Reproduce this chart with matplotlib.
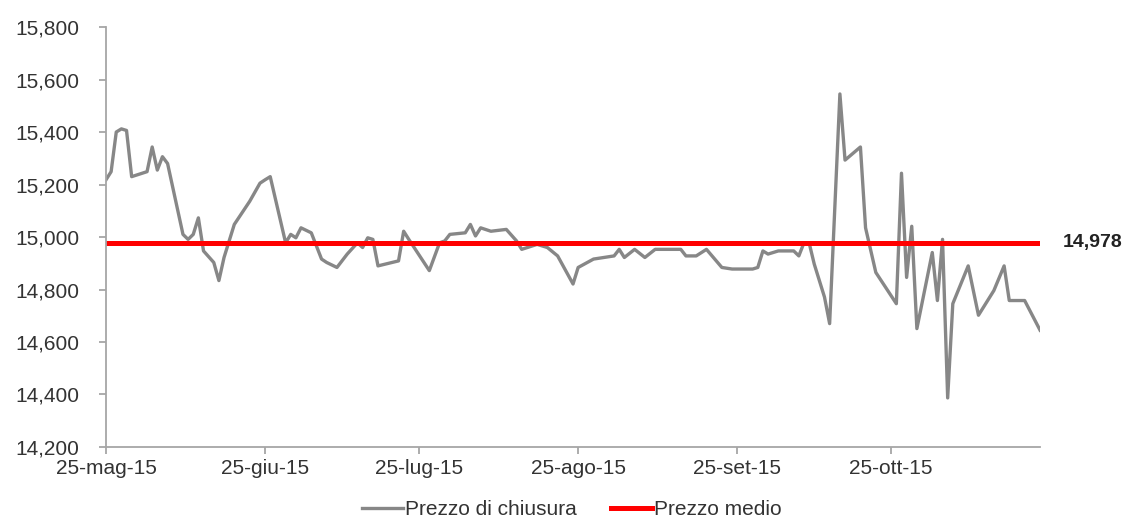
import matplotlib
matplotlib.use("Agg")
import matplotlib.pyplot as plt
import matplotlib.dates as mdates
import pandas as pd
from matplotlib.ticker import FuncFormatter

plt.rcParams["font.family"] = ["Liberation Sans", "DejaVu Sans"]

dates = [
    "2015-05-25", "2015-05-26", "2015-05-27", "2015-05-28", "2015-05-29",
    "2015-05-30", "2015-06-02", "2015-06-03", "2015-06-04", "2015-06-05",
    "2015-06-06", "2015-06-09", "2015-06-10", "2015-06-11", "2015-06-12",
    "2015-06-13", "2015-06-15", "2015-06-16", "2015-06-17", "2015-06-19",
    "2015-06-22", "2015-06-24", "2015-06-25", "2015-06-26", "2015-06-29",
    "2015-06-30", "2015-07-01", "2015-07-02", "2015-07-04", "2015-07-06",
    "2015-07-07", "2015-07-09", "2015-07-11", "2015-07-13", "2015-07-14",
    "2015-07-15", "2015-07-16", "2015-07-17", "2015-07-21", "2015-07-22",
    "2015-07-23", "2015-07-27", "2015-07-29", "2015-07-30", "2015-07-31",
    "2015-08-03", "2015-08-04", "2015-08-05", "2015-08-06", "2015-08-08",
    "2015-08-11", "2015-08-13", "2015-08-14", "2015-08-17", "2015-08-19",
    "2015-08-21", "2015-08-24", "2015-08-25", "2015-08-28", "2015-08-30",
    "2015-09-01", "2015-09-02", "2015-09-03", "2015-09-05", "2015-09-07",
    "2015-09-09", "2015-09-14", "2015-09-15", "2015-09-17", "2015-09-19",
    "2015-09-22", "2015-09-24", "2015-09-28", "2015-09-29", "2015-09-30",
    "2015-10-01", "2015-10-03", "2015-10-06", "2015-10-07", "2015-10-08",
    "2015-10-09", "2015-10-10", "2015-10-12", "2015-10-13", "2015-10-15",
    "2015-10-16", "2015-10-19", "2015-10-20", "2015-10-22", "2015-10-26",
    "2015-10-27", "2015-10-28", "2015-10-29", "2015-10-30", "2015-11-02",
    "2015-11-03", "2015-11-04", "2015-11-05", "2015-11-06", "2015-11-09",
    "2015-11-11", "2015-11-14", "2015-11-16", "2015-11-17", "2015-11-20",
    "2015-11-23",
]
closing_price = [
    15218, 15249, 15400, 15412, 15406,
    15230, 15249, 15343, 15255, 15306,
    15280, 15010, 14991, 15010, 15073,
    14947, 14903, 14834, 14922, 15048,
    15136, 15205, 15218, 15230, 14978,
    15010, 14997, 15035, 15016, 14916,
    14903, 14884, 14935, 14978, 14960,
    14997, 14991, 14890, 14909, 15022,
    14991, 14872, 14978, 14985, 15010,
    15016, 15048, 15004, 15035, 15022,
    15029, 14985, 14953, 14972, 14960,
    14928, 14821, 14884, 14916, 14922,
    14928, 14953, 14922, 14953, 14922,
    14953, 14953, 14928, 14928, 14953,
    14884, 14878, 14878, 14884, 14947,
    14935, 14947, 14947, 14928, 14978,
    14978, 14897, 14771, 14670, 15545,
    15293, 15343, 15035, 14865, 14746,
    15243, 14846, 15041, 14651, 14941,
    14758, 14991, 14387, 14746, 14890,
    14702, 14796, 14890, 14758, 14758,
    14645,
]
mean_price = 14978

tick_dates = ["2015-05-25", "2015-06-25", "2015-07-25",
              "2015-08-25", "2015-09-25", "2015-10-25"]
tick_labels = ["25-mag-15", "25-giu-15", "25-lug-15",
               "25-ago-15", "25-set-15", "25-ott-15"]
y_ticks = [14200, 14400, 14600, 14800, 15000, 15200, 15400, 15600, 15800]

x = pd.to_datetime(dates)
fig = plt.figure(figsize=(11.3, 5.2), dpi=100)
ax = fig.add_axes([0.0938, 0.1404, 0.8266, 0.8076])

ax.plot(x, closing_price, color="#878787", lw=2.4, label="Prezzo di chiusura",
        solid_joinstyle="round")
ax.plot([x[0], x[-1]], [mean_price, mean_price], color="#ff0000", lw=3.6,
        label="Prezzo medio")
ax.annotate(f"{mean_price:,}", xy=(x[-1], mean_price), xytext=(16, 0),
            textcoords="offset points", va="center", ha="left",
            fontsize=14, fontweight="bold", color="#222222")

ax.set_xlim(x[0], x[-1])
ax.set_ylim(y_ticks[0], y_ticks[-1])
ax.set_yticks(y_ticks)
ax.yaxis.set_major_formatter(FuncFormatter(lambda v, p: f"{int(v):,}"))
ax.set_xticks(pd.to_datetime(tick_dates))
ax.set_xticklabels(tick_labels)

for side in ("top", "right"):
    ax.spines[side].set_visible(False)
for side in ("left", "bottom"):
    ax.spines[side].set_color("#a6a6a6")
    ax.spines[side].set_linewidth(1.3)
ax.tick_params(axis="both", colors="#a6a6a6", length=5, width=1.3,
               labelcolor="#333333", labelsize=15)
ax.tick_params(axis="y", pad=14)
ax.tick_params(axis="x", pad=4)

fig.legend(loc="center", bbox_to_anchor=(0.506, 0.02), ncol=2, frameon=False,
           fontsize=15, handlelength=2.0, handletextpad=0.1, columnspacing=1.6,
           labelcolor="#333333")

fig.savefig("out.png", dpi=100)
